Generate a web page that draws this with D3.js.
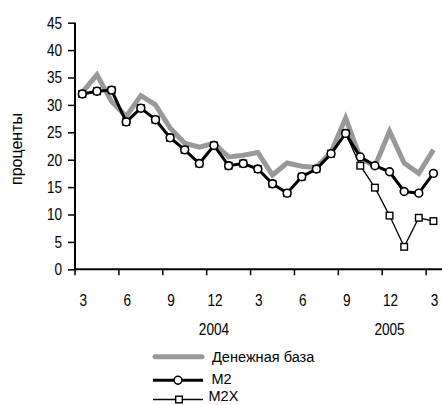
<!DOCTYPE html>
<html><head><meta charset="utf-8">
<script src="https://cdnjs.cloudflare.com/ajax/libs/d3/7.8.5/d3.min.js"></script>
<style>
body{margin:0;background:#fff;}
svg text{font-family:"Liberation Sans",Arial,sans-serif;font-size:16px;fill:#000;}
svg text.lg{font-size:15px;}
</style></head><body>
<svg id="c" width="442" height="405"></svg>
<script>
const months = [3,4,5,6,7,8,9,10,11,12,1,2,3,4,5,6,7,8,9,10,11,12,1,2,3];
const years = [{label:"2004", at:9},{label:"2005", at:21}];
const baseMoney = [32.3,35.5,30.6,27.9,31.7,30.0,25.8,23.0,22.3,23.0,20.5,20.8,21.3,17.2,19.4,18.8,18.6,21.3,27.6,20.3,18.8,25.2,19.4,17.5,21.8];
const m2 = [32.0,32.5,32.7,26.9,29.4,27.3,24.0,21.8,19.3,22.6,18.9,19.3,18.3,15.6,13.9,16.9,18.3,21.1,24.8,20.5,18.9,17.8,14.2,13.9,17.5];
const m2x = [32.0,32.5,32.7,26.9,29.4,27.3,24.0,21.8,19.3,22.6,18.9,19.3,18.3,15.6,13.9,16.9,18.3,21.1,24.8,18.9,14.9,9.8,4.1,9.4,8.8];
const yTicks = [0,5,10,15,20,25,30,35,40,45];
const seriesNames = ["Денежная база","M2","M2X"];

const svg = d3.select("#c");
const idx = d3.range(months.length);
const x = d3.scalePoint().domain(idx).range([75, 440.75]).padding(0.5);
const step = x.step();
const y = d3.scaleLinear().domain([0,45]).range([269.3, 22.7]);

function ctext(g, tx, ty, str, anchor, sx){
  return g.append("text").attr("transform",`translate(${tx},${ty}) scale(${sx},1)`)
    .attr("text-anchor",anchor).text(str);
}

// y axis ticks and labels
const ya = svg.append("g").attr("transform","translate(75,0)")
  .call(d3.axisLeft(y).tickValues(yTicks).tickSize(7).tickFormat(d3.format("d")));
ya.select(".domain").remove();
ya.selectAll(".tick line").attr("stroke","#000").attr("stroke-width",1.5);
ya.selectAll(".tick text").remove();
yTicks.forEach(v => ctext(svg, 62, y(v)+5.8, String(v), "end", 0.85));
svg.append("line").attr("x1",75).attr("x2",75).attr("y1",y(45)).attr("y2",y(0)).attr("stroke","#000").attr("stroke-width",2);

// x axis
svg.append("line").attr("x1",75).attr("x2",442).attr("y1",y(0)).attr("y2",y(0)).attr("stroke","#000").attr("stroke-width",2);
const tickIdx = idx.filter(i => i % 3 === 0);
svg.selectAll(".xt").data(tickIdx).enter().append("line")
  .attr("x1", i => x(i) - step/2).attr("x2", i => x(i) - step/2)
  .attr("y1", y(0)).attr("y2", y(0)+6).attr("stroke","#000").attr("stroke-width",1.5);
tickIdx.forEach(i => ctext(svg, x(i)+1, 305.8, String(months[i]), "middle", 0.85));
years.forEach(d => ctext(svg, x(d.at), 335, d.label, "middle", 0.85));

svg.append("text").attr("transform","translate(22,149) rotate(-90)").attr("text-anchor","middle").text("проценты");

const line = d3.line().x((d,i) => x(i)).y(d => y(d));

// base money
svg.append("path").datum(baseMoney).attr("d", line).attr("fill","none").attr("stroke","#999").attr("stroke-width",5).attr("stroke-linejoin","miter");

// M2X
svg.append("path").datum(m2x).attr("d", line).attr("fill","none").attr("stroke","#000").attr("stroke-width",1.3);
svg.selectAll(".sq").data(m2x).enter().append("rect")
  .attr("x",(d,i) => x(i)-3.3).attr("y", d => y(d)-3.3).attr("width",6.6).attr("height",6.6)
  .attr("fill","#fff").attr("stroke","#000").attr("stroke-width",1.4);

// M2
svg.append("path").datum(m2).attr("d", line).attr("fill","none").attr("stroke","#000").attr("stroke-width",3);
svg.selectAll(".ci").data(m2).enter().append("circle")
  .attr("cx",(d,i) => x(i)).attr("cy", d => y(d)).attr("r",3.9)
  .attr("fill","#fff").attr("stroke","#000").attr("stroke-width",1.6);

// legend
const lg = svg.append("g");
lg.append("line").attr("x1",155).attr("x2",202).attr("y1",356.7).attr("y2",356.7).attr("stroke","#999").attr("stroke-width",5).attr("stroke-linecap","round");
ctext(lg, 212, 362, seriesNames[0], "start", 0.97).attr("class","lg");
lg.append("line").attr("x1",153).attr("x2",203).attr("y1",380.2).attr("y2",380.2).attr("stroke","#000").attr("stroke-width",3);
lg.append("circle").attr("cx",178).attr("cy",380.2).attr("r",3.9).attr("fill","#fff").attr("stroke","#000").attr("stroke-width",1.6);
ctext(lg, 211.5, 384, seriesNames[1], "start", 0.97).attr("class","lg");
lg.append("line").attr("x1",153).attr("x2",203).attr("y1",399.5).attr("y2",399.5).attr("stroke","#000").attr("stroke-width",1.3);
lg.append("rect").attr("x",179-3.3).attr("y",399.5-3.3).attr("width",6.6).attr("height",6.6).attr("fill","#fff").attr("stroke","#000").attr("stroke-width",1.4);
ctext(lg, 208.5, 401, seriesNames[2], "start", 0.97).attr("class","lg");
</script></body></html>
